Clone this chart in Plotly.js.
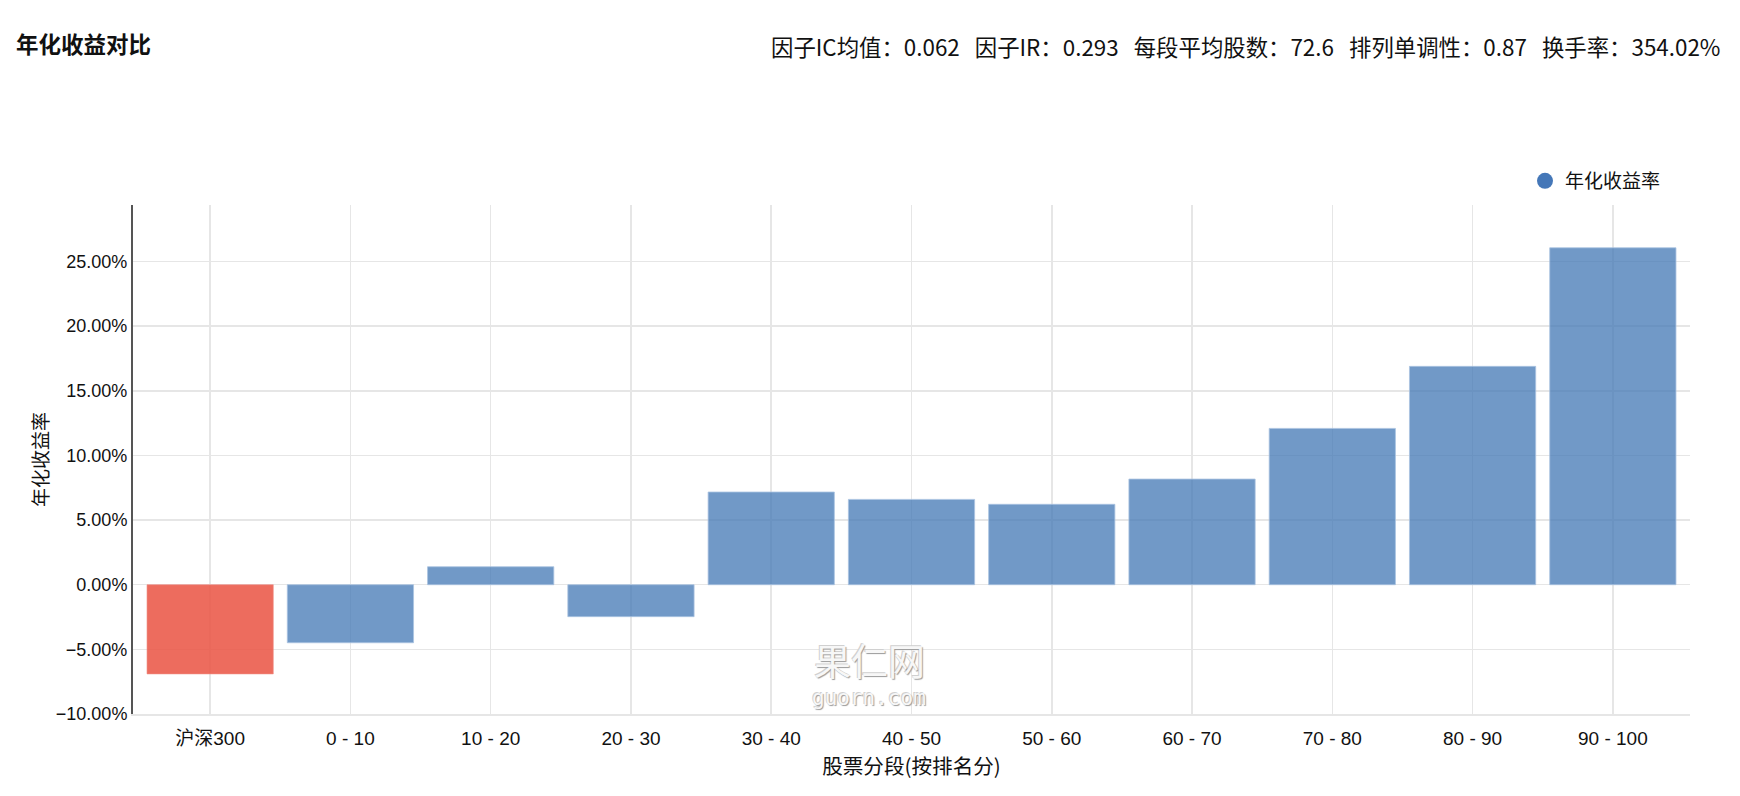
<!DOCTYPE html>
<html>
<head>
<meta charset="utf-8">
<script src="https://cdn.plot.ly/plotly-3.0.1.min.js"></script>
<style>
  html, body { margin: 0; padding: 0; background: #ffffff; }
  #chart { width: 1740px; height: 796px; }
</style>
</head>
<body>
<div id="chart"></div>
<script>
// ---- data ----
const categories = ["沪深300", "0 - 10", "10 - 20", "20 - 30", "30 - 40", "40 - 50", "50 - 60", "60 - 70", "70 - 80", "80 - 90", "90 - 100"];
const annualReturn = [-6.90, -4.49, 1.39, -2.47, 7.17, 6.60, 6.22, 8.17, 12.09, 16.89, 26.06];
const seriesName = "年化收益率";
const chartTitle = "年化收益对比";
const statLabels = ["因子IC均值", "因子IR", "每段平均股数", "排列单调性", "换手率"];
const statValues = ["0.062", "0.293", "72.6", "0.87", "354.02%"];
const xTitle = "股票分段(按排名分)";
const yTitle = "年化收益率";

const statsText = statLabels.map((l, i) => l + "：" + statValues[i]).join("\u00a0\u00a0\u00a0");

const benchColor = "rgba(234,82,66,0.85)";
const barColor = "rgba(70,122,182,0.77)";
const barColors = categories.map((c, i) => i === 0 ? benchColor : barColor);
const barLine = categories.map((c, i) => i === 0 ? "rgba(240,140,130,0.6)" : "rgba(170,195,225,0.8)");

const FONT = '"Liberation Sans", Arial, "Noto Sans CJK SC", sans-serif';
const CJK = '"Noto Sans CJK SC", "Liberation Sans", sans-serif';

const traces = [
  {
    type: "bar",
    x: categories,
    y: annualReturn,
    name: seriesName,
    showlegend: false,
    marker: { color: barColors, line: { color: barLine, width: 1 } },
    hovertemplate: "%{x}: %{y:.2f}%<extra></extra>"
  },
  {
    type: "scatter",
    mode: "markers",
    x: [null],
    y: [null],
    name: seriesName,
    showlegend: true,
    marker: { symbol: "circle", size: 17, color: "#4477b8" },
    hoverinfo: "skip"
  }
];

const layout = {
  width: 1740,
  height: 796,
  paper_bgcolor: "#ffffff",
  plot_bgcolor: "#ffffff",
  margin: { l: 133, r: 50, t: 205, b: 82, pad: 0 },
  font: { family: FONT, size: 19, color: "#111111" },
  title: {
    text: chartTitle,
    font: { family: CJK, size: 22.5, weight: "bold", color: "#111111" },
    xref: "container", yref: "container",
    x: 16 / 1740, xanchor: "left",
    y: 1 - 45 / 796, yanchor: "middle"
  },
  bargap: 0.1,
  showlegend: true,
  legend: {
    x: (1525 - 133) / 1557, xanchor: "left",
    y: 1 + (205 - 181) / 509, yanchor: "middle",
    orientation: "h",
    font: { family: CJK, size: 19, color: "#111111" },
    bgcolor: "rgba(0,0,0,0)",
    itemwidth: 30
  },
  xaxis: {
    type: "category",
    range: [-0.55, 10.55],
    showgrid: true,
    gridcolor: "#e6e6e6",
    gridwidth: 1.5,
    showline: true,
    linecolor: "#e6e6e6",
    linewidth: 1.5,
    ticks: "outside",
    ticklen: 7,
    tickcolor: "rgba(0,0,0,0)",
    tickfont: { family: FONT, size: 19, color: "#111111" },
    title: { text: xTitle, font: { family: CJK, size: 20.6, color: "#111111" }, standoff: 11 },
    fixedrange: true
  },
  yaxis: {
    range: [-10, 29.37],
    tick0: 0,
    dtick: 5,
    tickformat: ".2f",
    ticksuffix: "%",
    showgrid: true,
    gridcolor: "#e6e6e6",
    gridwidth: 1.5,
    zeroline: false,
    showline: true,
    linecolor: "#555555",
    linewidth: 2,
    ticks: "",
    tickfont: { family: FONT, size: 18, color: "#111111" },
    title: { text: yTitle, font: { family: CJK, size: 19, color: "#111111" }, standoff: 2 },
    fixedrange: true
  },
  annotations: [
    {
      text: statsText,
      xref: "paper", yref: "paper",
      x: (1722 - 133) / 1557, xanchor: "right",
      y: 1 + (205 - 46) / 509, yanchor: "middle",
      showarrow: false,
      font: { family: CJK, size: 22.4, color: "#111111" }
    },
    {
      text: "果仁网",
      xref: "paper", yref: "paper",
      x: (869 - 133) / 1557, xanchor: "center",
      y: (714 - 660) / 509, yanchor: "middle",
      showarrow: false,
      font: { family: CJK, size: 37, color: "#f7f7f7", shadow: "1px 1px 1px #9a9a9a, -1px -1px 0px #d0d0d0" }
    },
    {
      text: "guorn.com",
      xref: "paper", yref: "paper",
      x: (869 - 133) / 1557, xanchor: "center",
      y: (714 - 698) / 509, yanchor: "middle",
      showarrow: false,
      font: { family: '"DejaVu Sans Mono", monospace', size: 21, color: "#f7f7f7", shadow: "1px 1px 1px #9a9a9a, -1px -1px 0px #d0d0d0" }
    }
  ]
};

Plotly.newPlot("chart", traces, layout, { displayModeBar: false, staticPlot: true });
</script>
</body>
</html>
